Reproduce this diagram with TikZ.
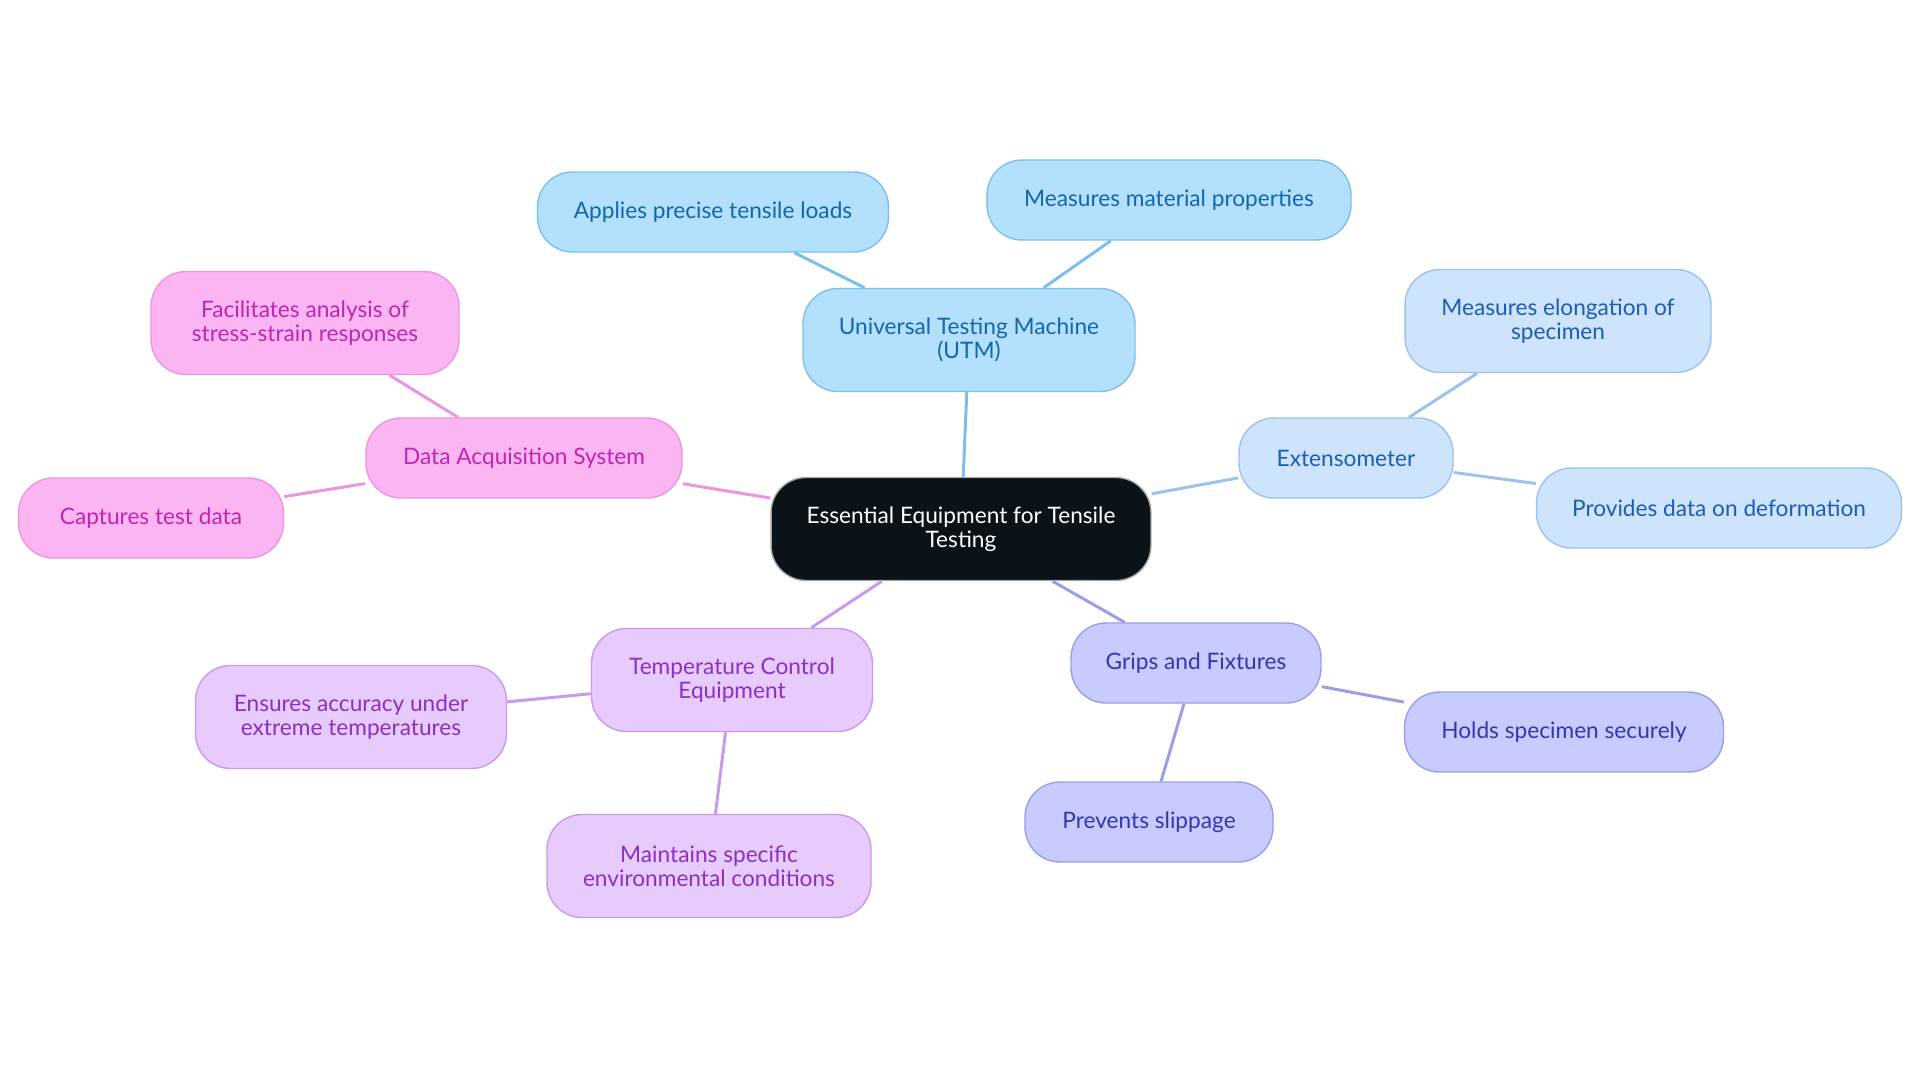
\documentclass[tikz,border=0pt]{standalone}
\usepackage{fontspec}
\setmainfont{Lato}
\definecolor{rootfill}{HTML}{0B1218}
\definecolor{utmfill}{HTML}{B3E0FD}
\definecolor{utmline}{HTML}{7DBFEA}
\definecolor{utmtext}{HTML}{1466AC}
\definecolor{extfill}{HTML}{CDE4FC}
\definecolor{extline}{HTML}{9CC2EC}
\definecolor{exttext}{HTML}{1E5CB5}
\definecolor{gripfill}{HTML}{C8CBFD}
\definecolor{gripline}{HTML}{9A9EE8}
\definecolor{griptext}{HTML}{3337AE}
\definecolor{tempfill}{HTML}{E8CBFD}
\definecolor{templine}{HTML}{C99AEB}
\definecolor{temptext}{HTML}{8A30C2}
\definecolor{daqfill}{HTML}{FCB5F3}
\definecolor{daqline}{HTML}{EB95E0}
\definecolor{daqtext}{HTML}{C025AE}
\tikzset{
  box/.style={rectangle, rounded corners=0.7cm, align=center, line width=0.8pt,
              minimum height=1.6cm, font=\fontsize{12.9}{13.6}\selectfont},
  tall/.style={minimum height=2.06cm},
  root/.style={box, tall, fill=rootfill, draw=gray!70, text=white},
  utm/.style={box, fill=utmfill, draw=utmline, text=utmtext},
  ext/.style={box, fill=extfill, draw=extline, text=exttext},
  grip/.style={box, fill=gripfill, draw=gripline, text=griptext},
  temp/.style={box, fill=tempfill, draw=templine, text=temptext},
  daq/.style={box, fill=daqfill, draw=daqline, text=daqtext},
  link/.style={line width=1.7pt}
}
\begin{document}
\begin{tikzpicture}[x=0.02cm, y=-0.02cm]
        \useasboundingbox (0,0) rectangle (1920,1083);

        \node[root, minimum width=7.6cm] (root) at (961,529) {Essential Equipment for Tensile\\Testing};

        % UTM
        \node[utm, tall, minimum width=6.64cm] (utm)     at (969,340) {Universal Testing Machine\\(UTM)};
        \node[utm, minimum width=7.02cm]       (loads)   at (713,212) {Applies precise tensile loads};
        \node[utm, minimum width=7.28cm]       (props)   at (1169,200) {Measures material properties};

        % extensometer
        \node[ext, minimum width=4.28cm]       (ext)     at (1346,458) {Extensometer};
        \node[ext, tall, minimum width=6.12cm] (elong)   at (1558,321) {Measures elongation of\\specimen};
        \node[ext, minimum width=7.30cm]       (deform)  at (1719,508) {Provides data on deformation};

        % grips
        \node[grip, minimum width=5.0cm]       (grips)   at (1196,663) {Grips and Fixtures};
        \node[grip, minimum width=6.38cm]      (holds)   at (1564,732) {Holds specimen securely};
        \node[grip, minimum width=4.96cm]      (slip)    at (1149,822) {Prevents slippage};

        % temperature
        \node[temp, tall, minimum width=5.62cm] (temp)   at (732,680) {Temperature Control\\Equipment};
        \node[temp, tall, minimum width=6.22cm] (accur)  at (351,717) {Ensures accuracy under\\extreme temperatures};
        \node[temp, tall, minimum width=6.48cm] (envir)  at (709,866) {Maintains specific\\environmental conditions};

        % data acquisition
        \node[daq, minimum width=6.32cm]       (daq)     at (524,458) {Data Acquisition System};
        \node[daq, tall, minimum width=6.16cm] (stress)  at (305,323) {Facilitates analysis of\\stress-strain responses};
        \node[daq, minimum width=5.30cm]       (capture) at (151,518) {Captures test data};

        \draw[link, utmline]  (root) -- (utm);
        \draw[link, utmline]  (utm) -- (loads);
        \draw[link, utmline]  (utm) -- (props);
        \draw[link, extline]  (root) -- (ext);
        \draw[link, extline]  (ext) -- (elong);
        \draw[link, extline]  (ext) -- (deform);
        \draw[link, gripline] (root) -- (grips);
        \draw[link, gripline] (grips) -- (holds);
        \draw[link, gripline] (grips) -- (slip);
        \draw[link, templine] (root) -- (temp);
        \draw[link, templine] (temp) -- (accur);
        \draw[link, templine] (temp) -- (envir);
        \draw[link, daqline]  (root) -- (daq);
        \draw[link, daqline]  (daq) -- (stress);
        \draw[link, daqline]  (daq) -- (capture);
\end{tikzpicture}
\end{document}
